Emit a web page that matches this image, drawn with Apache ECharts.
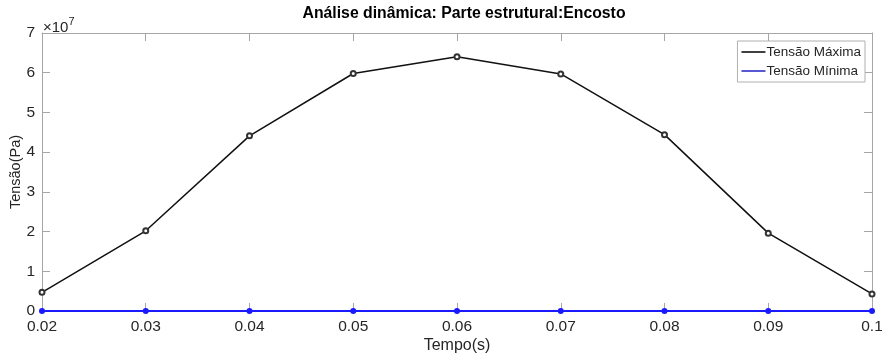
<!DOCTYPE html>
<html>
<head>
<meta charset="utf-8">
<script src="https://cdn.jsdelivr.net/npm/echarts@6/dist/echarts.min.js"></script>
<style>
  html, body { margin: 0; padding: 0; background: #fff; }
  #chart { width: 882px; height: 354px; }
</style>
</head>
<body>
<div id="chart"></div>
<script>
// Time steps (s) and stress results (Pa)
const tempo = [0.02, 0.03, 0.04, 0.05, 0.06, 0.07, 0.08, 0.09, 0.1];
const tensaoMaxima = [4.7e6, 2.02e7, 4.41e7, 5.98e7, 6.40e7, 5.97e7, 4.44e7, 1.96e7, 4.3e6];
const tensaoMinima = [0, 0, 0, 0, 0, 0, 0, 0, 0];
const yTicks = [0, 1, 2, 3, 4, 5, 6, 7];
const yScale = 1e7;

const FONT = '"Liberation Sans", Arial, sans-serif';
const TEXT = '#262626';
const AXIS = '#a6a6a6';

const fmtX = v => String(parseFloat(v.toFixed(2)));

const chart = echarts.init(document.getElementById('chart'), null, { renderer: 'canvas' });

const baseX = {
  type: 'value', min: 0.02, max: 0.1, interval: 0.01,
  axisLine: { show: true, onZero: false, lineStyle: { color: AXIS, width: 1 } },
  axisTick: { show: true, inside: true, length: 8, lineStyle: { color: AXIS } },
  splitLine: { show: false }
};
const baseY = {
  type: 'value', min: 0, max: yTicks[yTicks.length - 1] * yScale, interval: yScale,
  axisLine: { show: true, lineStyle: { color: AXIS, width: 1 } },
  axisTick: { show: true, inside: true, length: 8, lineStyle: { color: AXIS } },
  splitLine: { show: false }
};

chart.setOption({
  animation: false,
  backgroundColor: '#fff',
  title: {
    text: 'Análise dinâmica: Parte estrutural:Encosto',
    left: 459, top: 1, textAlign: 'center',
    textStyle: { fontFamily: FONT, fontSize: 15.8, fontWeight: 'bold', color: '#000' }
  },
  grid: { left: 42, right: 10, top: 33, bottom: 43, containLabel: false, outerBoundsMode: 'none' },
  legend: {
    right: 17, top: 41, orient: 'vertical',
    backgroundColor: '#fff', borderColor: '#b0b0b0', borderWidth: 1, borderRadius: 0,
    padding: [4, 4, 4, 4], itemGap: 5, itemWidth: 24, itemHeight: 1.5,
    textStyle: { fontFamily: FONT, fontSize: 13.5, color: TEXT, padding: [0, 0, 0, -4] },
    data: [
      { name: 'Tensão Máxima', icon: 'rect', itemStyle: { color: '#000', borderWidth: 0 } },
      { name: 'Tensão Mínima', icon: 'rect', itemStyle: { color: '#2020c0', borderWidth: 0 } }
    ]
  },
  xAxis: [
    Object.assign({}, baseX, {
      position: 'bottom',
      name: 'Tempo(s)', nameLocation: 'middle', nameGap: 27, nameMoveOverlap: false,
      nameTextStyle: { fontFamily: FONT, fontSize: 16, color: TEXT },
      axisLabel: { show: true, formatter: fmtX, margin: 8, fontFamily: FONT, fontSize: 15.5, color: TEXT }
    }),
    Object.assign({}, baseX, { position: 'top', axisLabel: { show: false } })
  ],
  yAxis: [
    Object.assign({}, baseY, {
      position: 'left',
      name: 'Tensão(Pa)', nameLocation: 'middle', nameGap: 19, nameMoveOverlap: false,
      nameTextStyle: { fontFamily: FONT, fontSize: 14.5, color: TEXT },
      axisLabel: { show: true, formatter: v => String(Math.round(v / yScale)), margin: 7,
                   fontFamily: FONT, fontSize: 15.5, color: TEXT }
    }),
    Object.assign({}, baseY, { position: 'right', axisLabel: { show: false } })
  ],
  graphic: [{
    type: 'text', left: 43, top: 16,
    style: {
      text: '{a|×10}{b|7}',
      rich: {
        a: { fontFamily: FONT, fontSize: 15, fill: TEXT, verticalAlign: 'bottom' },
        b: { fontFamily: FONT, fontSize: 11, fill: TEXT, verticalAlign: 'top', padding: [0, 0, 8, 0] }
      }
    }
  }],
  series: [
    {
      name: 'Tensão Máxima', type: 'line', xAxisIndex: 0, yAxisIndex: 0,
      data: tempo.map((t, i) => [t, tensaoMaxima[i]]),
      symbol: 'emptyCircle', symbolSize: 5, showAllSymbol: true,
      lineStyle: { color: '#111', width: 1.5 },
      itemStyle: { color: '#333', borderColor: '#222', borderWidth: 1.5 },
      z: 3
    },
    {
      name: 'Tensão Mínima', type: 'line', xAxisIndex: 0, yAxisIndex: 0,
      data: tempo.map((t, i) => [t, tensaoMinima[i]]),
      symbol: 'circle', symbolSize: 6, showAllSymbol: true,
      lineStyle: { color: '#1a1aff', width: 2 },
      itemStyle: { color: '#1a1aff' },
      z: 4
    }
  ]
});
</script>
</body>
</html>
